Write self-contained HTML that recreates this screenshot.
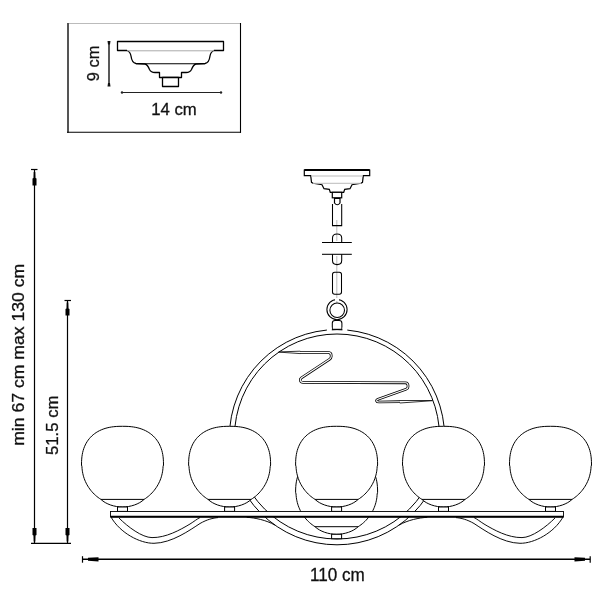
<!DOCTYPE html>
<html><head><meta charset="utf-8">
<style>
html,body{margin:0;padding:0;background:#fff;width:600px;height:600px;overflow:hidden}
svg{display:block;will-change:transform}
text{font-family:"Liberation Sans",sans-serif;fill:#111;stroke:#111;stroke-width:0.3px}
</style></head><body>
<svg width="600" height="600" viewBox="0 0 600 600">
<rect width="600" height="600" fill="#fff"/>
<!-- inset box -->
<line x1="68" y1="23.5" x2="240.5" y2="23.5" stroke="#bbb" stroke-width="1"/>
<line x1="68" y1="23" x2="68" y2="132.8" stroke="#555" stroke-width="2"/>
<line x1="240.5" y1="23" x2="240.5" y2="132.8" stroke="#000" stroke-width="1.1"/>
<line x1="67" y1="132.25" x2="241" y2="132.25" stroke="#000" stroke-width="1.1"/>
<!-- small canopy -->
<g fill="#fff" stroke="#000" stroke-width="1.3" stroke-linejoin="round">
<path d="M117.5,41.5 H223.5 V50.5 H214 C211.5,51.5 210.5,53 210,56 C209.5,60 208,63 205,63.5 L196,64 C193.5,64.5 192.5,67 191.5,69.5 C190.5,71.5 189,72.5 186,72.5 H181.5 V77.5 H159.5 V72.5 H155 C152,72.5 150.5,71.5 149.5,69.5 C148.5,67 147.5,64.5 145,64 L136,63.5 C133,63 131.5,60 131,56 C130.5,53 129.5,51.5 127,50.5 H117.5 Z"/>
<rect x="162.5" y="77.5" width="16" height="9"/>
</g>
<line x1="127" y1="50.8" x2="214" y2="50.8" stroke="#aaa" stroke-width="1"/>
<line x1="136" y1="63.7" x2="205" y2="63.7" stroke="#000" stroke-width="1.1"/>
<!-- dims small -->
<line x1="109" y1="41.5" x2="109" y2="86" stroke="#222" stroke-width="1.5"/>
<path d="M107.5,41 L110.5,41 L110,44.5 L108,44.5Z M107.5,86.5 L110.5,86.5 L110,83 L108,83Z" fill="#111"/>
<line x1="121.5" y1="92.5" x2="221.5" y2="92.5" stroke="#222" stroke-width="1.1"/>
<circle cx="122" cy="92.5" r="1.2" fill="#222"/><circle cx="221" cy="92.5" r="1.2" fill="#222"/>
<text x="151.2" y="114.6" font-size="16.3" textLength="45.5" lengthAdjust="spacingAndGlyphs">14 cm</text>
<text transform="translate(99,81.2) rotate(-90)" font-size="16.3" textLength="35.5" lengthAdjust="spacingAndGlyphs">9 cm</text>

<!-- big dims -->
<g stroke="#000" stroke-width="1.2" fill="none">
<line x1="34.5" y1="169.5" x2="34.5" y2="543.3"/>
<line x1="31" y1="169.5" x2="37.5" y2="169.5"/>
<line x1="67.5" y1="300.5" x2="67.5" y2="543.3"/>
<line x1="64.5" y1="300.5" x2="71" y2="300.5"/>
<line x1="31" y1="543.3" x2="71" y2="543.3"/>
<line x1="82.5" y1="559.3" x2="590.2" y2="559.3" stroke-width="1.5"/>
<line x1="82.5" y1="556.2" x2="82.5" y2="562.7"/>
<line x1="590.2" y1="556.2" x2="590.2" y2="562.7"/>
</g>
<g fill="#000">
<path d="M33.7,172 L35.3,172 L35.5,178 L36.5,178.5 L36.5,185.5 L32.5,185.5 L32.5,178.5 L33.5,178Z"/>
<path d="M66.7,302.5 L68.3,302.5 L68.5,308.5 L69.5,309 L69.5,315.5 L65.5,315.5 L65.5,309 L66.5,308.5Z"/>
<path d="M33.7,541.5 L35.3,541.5 L35.5,535.5 L36.5,535 L36.5,528 L32.5,528 L32.5,535 L33.5,535.5Z"/>
<path d="M66.7,541.5 L68.3,541.5 L68.5,535.5 L69.5,535 L69.5,528 L65.5,528 L65.5,535 L66.5,535.5Z"/>
<path d="M88,557.8 L98.5,557.2 L98.5,561.5 L88,560.8Z"/>
<path d="M585,557.8 L574.5,557.2 L574.5,561.5 L585,560.8Z"/>
</g>
<text transform="translate(23.6,445.8) rotate(-90)" font-size="16" textLength="182" lengthAdjust="spacingAndGlyphs">min 67 cm max 130 cm</text>
<text transform="translate(57.6,455) rotate(-90)" font-size="17" textLength="59.5" lengthAdjust="spacingAndGlyphs">51.5 cm</text>
<text x="310" y="580.6" font-size="17.5" textLength="54.8" lengthAdjust="spacingAndGlyphs">110 cm</text>

<!-- chandelier canopy -->
<g fill="#fff" stroke="#000" stroke-width="1.2" stroke-linejoin="miter">
<path d="M304.3,170 H369.7 V175.7 H363.3 L362.5,182.3 L361,183.3 L352,184.7 L350,188.7 L344.7,189.3 L343.7,192.3 H330.3 L329.3,189.3 L324,188.7 L322,184.7 L313,183.3 L311.5,182.3 L310.7,175.7 H304.3 Z"/>
<rect x="332.3" y="192.3" width="9.4" height="5.5"/>
<path d="M334.5,198.3 H340 V203 Q337.3,206.5 334.5,203 Z"/>
</g>
<line x1="304.3" y1="170" x2="369.7" y2="170" stroke="#000" stroke-width="1.8"/>
<line x1="311" y1="176" x2="363" y2="176" stroke="#bbb" stroke-width="1"/>
<line x1="313" y1="183.3" x2="361" y2="183.3" stroke="#bbb" stroke-width="1"/>
<!-- chain -->
<path d="M336.8,220 V241 M336.8,256 V303" stroke="#aaa" stroke-width="0.8"/>
<g fill="none" stroke="#000" stroke-width="1.05">
<path d="M332.5,204 V225.6 H341.7 V204"/>
<path d="M332.5,242.5 V238 Q332.5,234 337.1,234 Q341.7,234 341.7,238 V242.5"/>
<line x1="322" y1="242.5" x2="351.8" y2="242.5"/>
<line x1="322" y1="254.3" x2="351.8" y2="254.3"/>
<path d="M332.5,254.3 V260.5 Q332.5,264.6 337.1,264.6 Q341.7,264.6 341.7,260.5 V254.3"/>
<rect x="332.5" y="272.3" width="9" height="22" rx="2.2"/>
<circle cx="337" cy="309.6" r="10.1"/>
<circle cx="337.2" cy="310.2" r="7.3"/>
<path d="M332.3,329.5 V323.2 Q332.3,320.4 335,320.4 H339.2 Q341.9,320.4 341.9,323.2 V329.5"/>
</g>
<!-- ring -->
<g fill="none" stroke="#000" stroke-width="1">
<circle cx="337" cy="437.2" r="107.6"/>
<circle cx="337" cy="436.5" r="102.5"/>
</g>
<rect x="327" y="327.5" width="4.8" height="3.5" fill="#fff"/><rect x="342.4" y="327.5" width="4.8" height="3.5" fill="#fff"/>
<line x1="332" y1="329.3" x2="342.2" y2="329.3" stroke="#000" stroke-width="1"/>
<rect x="335" y="298" width="4" height="3" fill="#fff"/>
<!-- zigzag wires -->
<g fill="none" stroke-linejoin="round" stroke-linecap="butt">
<path d="M300,352.4 L328,352.4 Q331.2,352.6 331.2,355.5 L331.2,356.5 Q331.2,358.2 329.5,359.3 L301.5,377.8 Q300,379 300.3,380.5 Q300.8,382.4 303,382.4 L405.5,382.8 Q408,383 408,385.5 L408,387 Q408,388.6 406,389.3 L378,399.2 Q376.3,400 376.6,401 Q377,402 379,402 L400,401.7" stroke="#000" stroke-width="2.7"/>
<path d="M300,352.4 L328,352.4 Q331.2,352.6 331.2,355.5 L331.2,356.5 Q331.2,358.2 329.5,359.3 L301.5,377.8 Q300,379 300.3,380.5 Q300.8,382.4 303,382.4 L405.5,382.8 Q408,383 408,385.5 L408,387 Q408,388.6 406,389.3 L378,399.2 Q376.3,400 376.6,401 Q377,402 379,402 L400,401.7" stroke="#fff" stroke-width="1.1"/>
<path d="M278.7,351.9 L300.2,351.2 M278.7,352.1 L300.2,353.6 M399.8,400.5 L432.5,400.5 M399.8,403 L432.5,400.7" stroke="#000" stroke-width="0.8"/>
</g>
<!-- arms -->
<g fill="none" stroke="#000" stroke-width="0.95">
<path d="M111,517 C120,533 140,543.5 154,543.3 C172,543 190,530 200,523.5 C207,519.5 213,518 218,517.6"/>
<path d="M119,518 C128,527 142,537.5 152,537.6 C166,537.8 180,530 190,524 C194,521.5 197,519 200,517.5"/>
<path d="M563,517 C554,533 534,543.5 520,543.3 C502,543 484,530 474,523.5 C467,519.5 461,518 456,517.6"/>
<path d="M555,518 C546,527 532,537.5 522,537.6 C508,537.8 494,530 484,524 C480,521.5 477,519 474,517.5"/>
<path d="M246.7,517.3 C255,517.8 266,520 275,525.1"/>
<path d="M427.3,517.3 C419,517.8 408,520 399,525.1"/>
</g>
<!-- globes -->
<g>
<path d="M315.04,526.70 L313.61,525.76 L312.22,524.76 L310.87,523.71 L309.57,522.60 L308.32,521.43 L307.12,520.22 L305.97,518.95 L304.88,517.64 L303.84,516.28 L302.86,514.88 L301.94,513.44 L301.08,511.96 L300.28,510.44 L299.55,508.90 L298.88,507.32 L298.28,505.72 L297.75,504.10 L297.29,502.45 L296.90,500.79 L296.57,499.11 L296.32,497.42 L296.14,495.72 L296.04,494.01 L295.60,492.30 L295.65,488.99 L295.79,486.41 L296.02,484.05 L296.35,481.85 L296.77,479.75 L297.28,477.76 L297.88,475.84 L298.58,474.01 L299.36,472.26 L300.23,470.58 L301.19,468.98 L302.24,467.45 L303.37,465.99 L304.59,464.61 L305.88,463.31 L307.27,462.08 L308.73,460.93 L310.27,459.87 L311.89,458.88 L313.59,457.97 L315.37,457.15 L317.23,456.41 L319.17,455.75 L321.19,455.18 L323.31,454.70 L325.52,454.31 L327.86,454.00 L330.36,453.78 L333.09,453.64 L336.60,453.60 L340.11,453.64 L342.84,453.78 L345.34,454.00 L347.68,454.31 L349.89,454.70 L352.01,455.18 L354.03,455.75 L355.97,456.41 L357.83,457.15 L359.61,457.97 L361.31,458.88 L362.93,459.87 L364.47,460.93 L365.93,462.08 L367.32,463.31 L368.61,464.61 L369.83,465.99 L370.96,467.45 L372.01,468.98 L372.97,470.58 L373.84,472.26 L374.62,474.01 L375.32,475.84 L375.92,477.76 L376.43,479.75 L376.85,481.85 L377.18,484.05 L377.41,486.41 L377.55,488.99 L377.60,492.30 L377.16,494.01 L377.06,495.72 L376.88,497.42 L376.63,499.11 L376.30,500.79 L375.91,502.45 L375.45,504.10 L374.92,505.72 L374.32,507.32 L373.65,508.90 L372.92,510.44 L372.12,511.96 L371.26,513.44 L370.34,514.88 L369.36,516.28 L368.32,517.64 L367.23,518.95 L366.08,520.22 L364.88,521.43 L363.63,522.60 L362.33,523.71 L360.98,524.76 L359.59,525.76 L358.16,526.70 Z" fill="#fff" stroke="none"/>
<path d="M315.04,526.70 L313.61,525.76 L312.22,524.76 L310.87,523.71 L309.57,522.60 L308.32,521.43 L307.12,520.22 L305.97,518.95 L304.88,517.64 L303.84,516.28 L302.86,514.88 L301.94,513.44 L301.08,511.96 L300.28,510.44 L299.55,508.90 L298.88,507.32 L298.28,505.72 L297.75,504.10 L297.29,502.45 L296.90,500.79 L296.57,499.11 L296.32,497.42 L296.14,495.72 L296.04,494.01 L295.60,492.30 L295.65,488.99 L295.79,486.41 L296.02,484.05 L296.35,481.85 L296.77,479.75 L297.28,477.76 L297.88,475.84 L298.58,474.01 L299.36,472.26 L300.23,470.58 L301.19,468.98 L302.24,467.45 L303.37,465.99 L304.59,464.61 L305.88,463.31 L307.27,462.08 L308.73,460.93 L310.27,459.87 L311.89,458.88 L313.59,457.97 L315.37,457.15 L317.23,456.41 L319.17,455.75 L321.19,455.18 L323.31,454.70 L325.52,454.31 L327.86,454.00 L330.36,453.78 L333.09,453.64 L336.60,453.60 L340.11,453.64 L342.84,453.78 L345.34,454.00 L347.68,454.31 L349.89,454.70 L352.01,455.18 L354.03,455.75 L355.97,456.41 L357.83,457.15 L359.61,457.97 L361.31,458.88 L362.93,459.87 L364.47,460.93 L365.93,462.08 L367.32,463.31 L368.61,464.61 L369.83,465.99 L370.96,467.45 L372.01,468.98 L372.97,470.58 L373.84,472.26 L374.62,474.01 L375.32,475.84 L375.92,477.76 L376.43,479.75 L376.85,481.85 L377.18,484.05 L377.41,486.41 L377.55,488.99 L377.60,492.30 L377.16,494.01 L377.06,495.72 L376.88,497.42 L376.63,499.11 L376.30,500.79 L375.91,502.45 L375.45,504.10 L374.92,505.72 L374.32,507.32 L373.65,508.90 L372.92,510.44 L372.12,511.96 L371.26,513.44 L370.34,514.88 L369.36,516.28 L368.32,517.64 L367.23,518.95 L366.08,520.22 L364.88,521.43 L363.63,522.60 L362.33,523.71 L360.98,524.76 L359.59,525.76 L358.16,526.70" fill="none" stroke="#000" stroke-width="1.0"/>
<path d="M315.04,526.70 H358.16 C353.16,531.50 344.60,534.30 336.60,534.30 C328.60,534.30 320.04,531.50 315.04,526.70 Z" fill="#fff" stroke="#000" stroke-width="1"/>
<rect x="331.60" y="534.30" width="10" height="4.4" fill="#fff" stroke="#000" stroke-width="1"/>
<path d="M100.94,499.40 L99.51,498.46 L98.12,497.46 L96.77,496.41 L95.47,495.30 L94.22,494.13 L93.02,492.92 L91.87,491.65 L90.78,490.34 L89.74,488.98 L88.76,487.58 L87.84,486.14 L86.98,484.66 L86.18,483.14 L85.45,481.60 L84.78,480.02 L84.18,478.42 L83.65,476.80 L83.19,475.15 L82.80,473.49 L82.47,471.81 L82.22,470.12 L82.04,468.42 L81.94,466.71 L81.50,465.00 L81.55,461.69 L81.69,459.11 L81.92,456.75 L82.25,454.55 L82.67,452.45 L83.18,450.46 L83.78,448.54 L84.48,446.71 L85.26,444.96 L86.13,443.28 L87.09,441.68 L88.14,440.15 L89.27,438.69 L90.49,437.31 L91.78,436.01 L93.17,434.78 L94.63,433.63 L96.17,432.57 L97.79,431.58 L99.49,430.67 L101.27,429.85 L103.13,429.11 L105.07,428.45 L107.09,427.88 L109.21,427.40 L111.42,427.01 L113.76,426.70 L116.26,426.48 L118.99,426.34 L122.50,426.30 L126.01,426.34 L128.74,426.48 L131.24,426.70 L133.58,427.01 L135.79,427.40 L137.91,427.88 L139.93,428.45 L141.87,429.11 L143.73,429.85 L145.51,430.67 L147.21,431.58 L148.83,432.57 L150.37,433.63 L151.83,434.78 L153.22,436.01 L154.51,437.31 L155.73,438.69 L156.86,440.15 L157.91,441.68 L158.87,443.28 L159.74,444.96 L160.52,446.71 L161.22,448.54 L161.82,450.46 L162.33,452.45 L162.75,454.55 L163.08,456.75 L163.31,459.11 L163.45,461.69 L163.50,465.00 L163.06,466.71 L162.96,468.42 L162.78,470.12 L162.53,471.81 L162.20,473.49 L161.81,475.15 L161.35,476.80 L160.82,478.42 L160.22,480.02 L159.55,481.60 L158.82,483.14 L158.02,484.66 L157.16,486.14 L156.24,487.58 L155.26,488.98 L154.22,490.34 L153.13,491.65 L151.98,492.92 L150.78,494.13 L149.53,495.30 L148.23,496.41 L146.88,497.46 L145.49,498.46 L144.06,499.40 Z" fill="#fff" stroke="none"/>
<path d="M100.94,499.40 L99.51,498.46 L98.12,497.46 L96.77,496.41 L95.47,495.30 L94.22,494.13 L93.02,492.92 L91.87,491.65 L90.78,490.34 L89.74,488.98 L88.76,487.58 L87.84,486.14 L86.98,484.66 L86.18,483.14 L85.45,481.60 L84.78,480.02 L84.18,478.42 L83.65,476.80 L83.19,475.15 L82.80,473.49 L82.47,471.81 L82.22,470.12 L82.04,468.42 L81.94,466.71 L81.50,465.00 L81.55,461.69 L81.69,459.11 L81.92,456.75 L82.25,454.55 L82.67,452.45 L83.18,450.46 L83.78,448.54 L84.48,446.71 L85.26,444.96 L86.13,443.28 L87.09,441.68 L88.14,440.15 L89.27,438.69 L90.49,437.31 L91.78,436.01 L93.17,434.78 L94.63,433.63 L96.17,432.57 L97.79,431.58 L99.49,430.67 L101.27,429.85 L103.13,429.11 L105.07,428.45 L107.09,427.88 L109.21,427.40 L111.42,427.01 L113.76,426.70 L116.26,426.48 L118.99,426.34 L122.50,426.30 L126.01,426.34 L128.74,426.48 L131.24,426.70 L133.58,427.01 L135.79,427.40 L137.91,427.88 L139.93,428.45 L141.87,429.11 L143.73,429.85 L145.51,430.67 L147.21,431.58 L148.83,432.57 L150.37,433.63 L151.83,434.78 L153.22,436.01 L154.51,437.31 L155.73,438.69 L156.86,440.15 L157.91,441.68 L158.87,443.28 L159.74,444.96 L160.52,446.71 L161.22,448.54 L161.82,450.46 L162.33,452.45 L162.75,454.55 L163.08,456.75 L163.31,459.11 L163.45,461.69 L163.50,465.00 L163.06,466.71 L162.96,468.42 L162.78,470.12 L162.53,471.81 L162.20,473.49 L161.81,475.15 L161.35,476.80 L160.82,478.42 L160.22,480.02 L159.55,481.60 L158.82,483.14 L158.02,484.66 L157.16,486.14 L156.24,487.58 L155.26,488.98 L154.22,490.34 L153.13,491.65 L151.98,492.92 L150.78,494.13 L149.53,495.30 L148.23,496.41 L146.88,497.46 L145.49,498.46 L144.06,499.40" fill="none" stroke="#000" stroke-width="1.0"/>
<path d="M100.94,499.40 H144.06 C139.06,504.20 130.50,507.00 122.50,507.00 C114.50,507.00 105.94,504.20 100.94,499.40 Z" fill="#fff" stroke="#000" stroke-width="1"/>
<rect x="117.50" y="507.00" width="10" height="4.4" fill="#fff" stroke="#000" stroke-width="1"/>
<path d="M208.04,499.40 L206.61,498.46 L205.22,497.46 L203.87,496.41 L202.57,495.30 L201.32,494.13 L200.12,492.92 L198.97,491.65 L197.88,490.34 L196.84,488.98 L195.86,487.58 L194.94,486.14 L194.08,484.66 L193.28,483.14 L192.55,481.60 L191.88,480.02 L191.28,478.42 L190.75,476.80 L190.29,475.15 L189.90,473.49 L189.57,471.81 L189.32,470.12 L189.14,468.42 L189.04,466.71 L188.60,465.00 L188.65,461.69 L188.79,459.11 L189.02,456.75 L189.35,454.55 L189.77,452.45 L190.28,450.46 L190.88,448.54 L191.58,446.71 L192.36,444.96 L193.23,443.28 L194.19,441.68 L195.24,440.15 L196.37,438.69 L197.59,437.31 L198.88,436.01 L200.27,434.78 L201.73,433.63 L203.27,432.57 L204.89,431.58 L206.59,430.67 L208.37,429.85 L210.23,429.11 L212.17,428.45 L214.19,427.88 L216.31,427.40 L218.52,427.01 L220.86,426.70 L223.36,426.48 L226.09,426.34 L229.60,426.30 L233.11,426.34 L235.84,426.48 L238.34,426.70 L240.68,427.01 L242.89,427.40 L245.01,427.88 L247.03,428.45 L248.97,429.11 L250.83,429.85 L252.61,430.67 L254.31,431.58 L255.93,432.57 L257.47,433.63 L258.93,434.78 L260.32,436.01 L261.61,437.31 L262.83,438.69 L263.96,440.15 L265.01,441.68 L265.97,443.28 L266.84,444.96 L267.62,446.71 L268.32,448.54 L268.92,450.46 L269.43,452.45 L269.85,454.55 L270.18,456.75 L270.41,459.11 L270.55,461.69 L270.60,465.00 L270.16,466.71 L270.06,468.42 L269.88,470.12 L269.63,471.81 L269.30,473.49 L268.91,475.15 L268.45,476.80 L267.92,478.42 L267.32,480.02 L266.65,481.60 L265.92,483.14 L265.12,484.66 L264.26,486.14 L263.34,487.58 L262.36,488.98 L261.32,490.34 L260.23,491.65 L259.08,492.92 L257.88,494.13 L256.63,495.30 L255.33,496.41 L253.98,497.46 L252.59,498.46 L251.16,499.40 Z" fill="#fff" stroke="none"/>
<path d="M208.04,499.40 L206.61,498.46 L205.22,497.46 L203.87,496.41 L202.57,495.30 L201.32,494.13 L200.12,492.92 L198.97,491.65 L197.88,490.34 L196.84,488.98 L195.86,487.58 L194.94,486.14 L194.08,484.66 L193.28,483.14 L192.55,481.60 L191.88,480.02 L191.28,478.42 L190.75,476.80 L190.29,475.15 L189.90,473.49 L189.57,471.81 L189.32,470.12 L189.14,468.42 L189.04,466.71 L188.60,465.00 L188.65,461.69 L188.79,459.11 L189.02,456.75 L189.35,454.55 L189.77,452.45 L190.28,450.46 L190.88,448.54 L191.58,446.71 L192.36,444.96 L193.23,443.28 L194.19,441.68 L195.24,440.15 L196.37,438.69 L197.59,437.31 L198.88,436.01 L200.27,434.78 L201.73,433.63 L203.27,432.57 L204.89,431.58 L206.59,430.67 L208.37,429.85 L210.23,429.11 L212.17,428.45 L214.19,427.88 L216.31,427.40 L218.52,427.01 L220.86,426.70 L223.36,426.48 L226.09,426.34 L229.60,426.30 L233.11,426.34 L235.84,426.48 L238.34,426.70 L240.68,427.01 L242.89,427.40 L245.01,427.88 L247.03,428.45 L248.97,429.11 L250.83,429.85 L252.61,430.67 L254.31,431.58 L255.93,432.57 L257.47,433.63 L258.93,434.78 L260.32,436.01 L261.61,437.31 L262.83,438.69 L263.96,440.15 L265.01,441.68 L265.97,443.28 L266.84,444.96 L267.62,446.71 L268.32,448.54 L268.92,450.46 L269.43,452.45 L269.85,454.55 L270.18,456.75 L270.41,459.11 L270.55,461.69 L270.60,465.00 L270.16,466.71 L270.06,468.42 L269.88,470.12 L269.63,471.81 L269.30,473.49 L268.91,475.15 L268.45,476.80 L267.92,478.42 L267.32,480.02 L266.65,481.60 L265.92,483.14 L265.12,484.66 L264.26,486.14 L263.34,487.58 L262.36,488.98 L261.32,490.34 L260.23,491.65 L259.08,492.92 L257.88,494.13 L256.63,495.30 L255.33,496.41 L253.98,497.46 L252.59,498.46 L251.16,499.40" fill="none" stroke="#000" stroke-width="1.0"/>
<path d="M208.04,499.40 H251.16 C246.16,504.20 237.60,507.00 229.60,507.00 C221.60,507.00 213.04,504.20 208.04,499.40 Z" fill="#fff" stroke="#000" stroke-width="1"/>
<rect x="224.60" y="507.00" width="10" height="4.4" fill="#fff" stroke="#000" stroke-width="1"/>
<path d="M315.04,499.40 L313.61,498.46 L312.22,497.46 L310.87,496.41 L309.57,495.30 L308.32,494.13 L307.12,492.92 L305.97,491.65 L304.88,490.34 L303.84,488.98 L302.86,487.58 L301.94,486.14 L301.08,484.66 L300.28,483.14 L299.55,481.60 L298.88,480.02 L298.28,478.42 L297.75,476.80 L297.29,475.15 L296.90,473.49 L296.57,471.81 L296.32,470.12 L296.14,468.42 L296.04,466.71 L295.60,465.00 L295.65,461.69 L295.79,459.11 L296.02,456.75 L296.35,454.55 L296.77,452.45 L297.28,450.46 L297.88,448.54 L298.58,446.71 L299.36,444.96 L300.23,443.28 L301.19,441.68 L302.24,440.15 L303.37,438.69 L304.59,437.31 L305.88,436.01 L307.27,434.78 L308.73,433.63 L310.27,432.57 L311.89,431.58 L313.59,430.67 L315.37,429.85 L317.23,429.11 L319.17,428.45 L321.19,427.88 L323.31,427.40 L325.52,427.01 L327.86,426.70 L330.36,426.48 L333.09,426.34 L336.60,426.30 L340.11,426.34 L342.84,426.48 L345.34,426.70 L347.68,427.01 L349.89,427.40 L352.01,427.88 L354.03,428.45 L355.97,429.11 L357.83,429.85 L359.61,430.67 L361.31,431.58 L362.93,432.57 L364.47,433.63 L365.93,434.78 L367.32,436.01 L368.61,437.31 L369.83,438.69 L370.96,440.15 L372.01,441.68 L372.97,443.28 L373.84,444.96 L374.62,446.71 L375.32,448.54 L375.92,450.46 L376.43,452.45 L376.85,454.55 L377.18,456.75 L377.41,459.11 L377.55,461.69 L377.60,465.00 L377.16,466.71 L377.06,468.42 L376.88,470.12 L376.63,471.81 L376.30,473.49 L375.91,475.15 L375.45,476.80 L374.92,478.42 L374.32,480.02 L373.65,481.60 L372.92,483.14 L372.12,484.66 L371.26,486.14 L370.34,487.58 L369.36,488.98 L368.32,490.34 L367.23,491.65 L366.08,492.92 L364.88,494.13 L363.63,495.30 L362.33,496.41 L360.98,497.46 L359.59,498.46 L358.16,499.40 Z" fill="#fff" stroke="none"/>
<path d="M315.04,499.40 L313.61,498.46 L312.22,497.46 L310.87,496.41 L309.57,495.30 L308.32,494.13 L307.12,492.92 L305.97,491.65 L304.88,490.34 L303.84,488.98 L302.86,487.58 L301.94,486.14 L301.08,484.66 L300.28,483.14 L299.55,481.60 L298.88,480.02 L298.28,478.42 L297.75,476.80 L297.29,475.15 L296.90,473.49 L296.57,471.81 L296.32,470.12 L296.14,468.42 L296.04,466.71 L295.60,465.00 L295.65,461.69 L295.79,459.11 L296.02,456.75 L296.35,454.55 L296.77,452.45 L297.28,450.46 L297.88,448.54 L298.58,446.71 L299.36,444.96 L300.23,443.28 L301.19,441.68 L302.24,440.15 L303.37,438.69 L304.59,437.31 L305.88,436.01 L307.27,434.78 L308.73,433.63 L310.27,432.57 L311.89,431.58 L313.59,430.67 L315.37,429.85 L317.23,429.11 L319.17,428.45 L321.19,427.88 L323.31,427.40 L325.52,427.01 L327.86,426.70 L330.36,426.48 L333.09,426.34 L336.60,426.30 L340.11,426.34 L342.84,426.48 L345.34,426.70 L347.68,427.01 L349.89,427.40 L352.01,427.88 L354.03,428.45 L355.97,429.11 L357.83,429.85 L359.61,430.67 L361.31,431.58 L362.93,432.57 L364.47,433.63 L365.93,434.78 L367.32,436.01 L368.61,437.31 L369.83,438.69 L370.96,440.15 L372.01,441.68 L372.97,443.28 L373.84,444.96 L374.62,446.71 L375.32,448.54 L375.92,450.46 L376.43,452.45 L376.85,454.55 L377.18,456.75 L377.41,459.11 L377.55,461.69 L377.60,465.00 L377.16,466.71 L377.06,468.42 L376.88,470.12 L376.63,471.81 L376.30,473.49 L375.91,475.15 L375.45,476.80 L374.92,478.42 L374.32,480.02 L373.65,481.60 L372.92,483.14 L372.12,484.66 L371.26,486.14 L370.34,487.58 L369.36,488.98 L368.32,490.34 L367.23,491.65 L366.08,492.92 L364.88,494.13 L363.63,495.30 L362.33,496.41 L360.98,497.46 L359.59,498.46 L358.16,499.40" fill="none" stroke="#000" stroke-width="1.0"/>
<path d="M315.04,499.40 H358.16 C353.16,504.20 344.60,507.00 336.60,507.00 C328.60,507.00 320.04,504.20 315.04,499.40 Z" fill="#fff" stroke="#000" stroke-width="1"/>
<rect x="331.60" y="507.00" width="10" height="4.4" fill="#fff" stroke="#000" stroke-width="1"/>
<path d="M421.94,499.40 L420.51,498.46 L419.12,497.46 L417.77,496.41 L416.47,495.30 L415.22,494.13 L414.02,492.92 L412.87,491.65 L411.78,490.34 L410.74,488.98 L409.76,487.58 L408.84,486.14 L407.98,484.66 L407.18,483.14 L406.45,481.60 L405.78,480.02 L405.18,478.42 L404.65,476.80 L404.19,475.15 L403.80,473.49 L403.47,471.81 L403.22,470.12 L403.04,468.42 L402.94,466.71 L402.50,465.00 L402.55,461.69 L402.69,459.11 L402.92,456.75 L403.25,454.55 L403.67,452.45 L404.18,450.46 L404.78,448.54 L405.48,446.71 L406.26,444.96 L407.13,443.28 L408.09,441.68 L409.14,440.15 L410.27,438.69 L411.49,437.31 L412.78,436.01 L414.17,434.78 L415.63,433.63 L417.17,432.57 L418.79,431.58 L420.49,430.67 L422.27,429.85 L424.13,429.11 L426.07,428.45 L428.09,427.88 L430.21,427.40 L432.42,427.01 L434.76,426.70 L437.26,426.48 L439.99,426.34 L443.50,426.30 L447.01,426.34 L449.74,426.48 L452.24,426.70 L454.58,427.01 L456.79,427.40 L458.91,427.88 L460.93,428.45 L462.87,429.11 L464.73,429.85 L466.51,430.67 L468.21,431.58 L469.83,432.57 L471.37,433.63 L472.83,434.78 L474.22,436.01 L475.51,437.31 L476.73,438.69 L477.86,440.15 L478.91,441.68 L479.87,443.28 L480.74,444.96 L481.52,446.71 L482.22,448.54 L482.82,450.46 L483.33,452.45 L483.75,454.55 L484.08,456.75 L484.31,459.11 L484.45,461.69 L484.50,465.00 L484.06,466.71 L483.96,468.42 L483.78,470.12 L483.53,471.81 L483.20,473.49 L482.81,475.15 L482.35,476.80 L481.82,478.42 L481.22,480.02 L480.55,481.60 L479.82,483.14 L479.02,484.66 L478.16,486.14 L477.24,487.58 L476.26,488.98 L475.22,490.34 L474.13,491.65 L472.98,492.92 L471.78,494.13 L470.53,495.30 L469.23,496.41 L467.88,497.46 L466.49,498.46 L465.06,499.40 Z" fill="#fff" stroke="none"/>
<path d="M421.94,499.40 L420.51,498.46 L419.12,497.46 L417.77,496.41 L416.47,495.30 L415.22,494.13 L414.02,492.92 L412.87,491.65 L411.78,490.34 L410.74,488.98 L409.76,487.58 L408.84,486.14 L407.98,484.66 L407.18,483.14 L406.45,481.60 L405.78,480.02 L405.18,478.42 L404.65,476.80 L404.19,475.15 L403.80,473.49 L403.47,471.81 L403.22,470.12 L403.04,468.42 L402.94,466.71 L402.50,465.00 L402.55,461.69 L402.69,459.11 L402.92,456.75 L403.25,454.55 L403.67,452.45 L404.18,450.46 L404.78,448.54 L405.48,446.71 L406.26,444.96 L407.13,443.28 L408.09,441.68 L409.14,440.15 L410.27,438.69 L411.49,437.31 L412.78,436.01 L414.17,434.78 L415.63,433.63 L417.17,432.57 L418.79,431.58 L420.49,430.67 L422.27,429.85 L424.13,429.11 L426.07,428.45 L428.09,427.88 L430.21,427.40 L432.42,427.01 L434.76,426.70 L437.26,426.48 L439.99,426.34 L443.50,426.30 L447.01,426.34 L449.74,426.48 L452.24,426.70 L454.58,427.01 L456.79,427.40 L458.91,427.88 L460.93,428.45 L462.87,429.11 L464.73,429.85 L466.51,430.67 L468.21,431.58 L469.83,432.57 L471.37,433.63 L472.83,434.78 L474.22,436.01 L475.51,437.31 L476.73,438.69 L477.86,440.15 L478.91,441.68 L479.87,443.28 L480.74,444.96 L481.52,446.71 L482.22,448.54 L482.82,450.46 L483.33,452.45 L483.75,454.55 L484.08,456.75 L484.31,459.11 L484.45,461.69 L484.50,465.00 L484.06,466.71 L483.96,468.42 L483.78,470.12 L483.53,471.81 L483.20,473.49 L482.81,475.15 L482.35,476.80 L481.82,478.42 L481.22,480.02 L480.55,481.60 L479.82,483.14 L479.02,484.66 L478.16,486.14 L477.24,487.58 L476.26,488.98 L475.22,490.34 L474.13,491.65 L472.98,492.92 L471.78,494.13 L470.53,495.30 L469.23,496.41 L467.88,497.46 L466.49,498.46 L465.06,499.40" fill="none" stroke="#000" stroke-width="1.0"/>
<path d="M421.94,499.40 H465.06 C460.06,504.20 451.50,507.00 443.50,507.00 C435.50,507.00 426.94,504.20 421.94,499.40 Z" fill="#fff" stroke="#000" stroke-width="1"/>
<rect x="438.50" y="507.00" width="10" height="4.4" fill="#fff" stroke="#000" stroke-width="1"/>
<path d="M528.94,499.40 L527.51,498.46 L526.12,497.46 L524.77,496.41 L523.47,495.30 L522.22,494.13 L521.02,492.92 L519.87,491.65 L518.78,490.34 L517.74,488.98 L516.76,487.58 L515.84,486.14 L514.98,484.66 L514.18,483.14 L513.45,481.60 L512.78,480.02 L512.18,478.42 L511.65,476.80 L511.19,475.15 L510.80,473.49 L510.47,471.81 L510.22,470.12 L510.04,468.42 L509.94,466.71 L509.50,465.00 L509.55,461.69 L509.69,459.11 L509.92,456.75 L510.25,454.55 L510.67,452.45 L511.18,450.46 L511.78,448.54 L512.48,446.71 L513.26,444.96 L514.13,443.28 L515.09,441.68 L516.14,440.15 L517.27,438.69 L518.49,437.31 L519.78,436.01 L521.17,434.78 L522.63,433.63 L524.17,432.57 L525.79,431.58 L527.49,430.67 L529.27,429.85 L531.13,429.11 L533.07,428.45 L535.09,427.88 L537.21,427.40 L539.42,427.01 L541.76,426.70 L544.26,426.48 L546.99,426.34 L550.50,426.30 L554.01,426.34 L556.74,426.48 L559.24,426.70 L561.58,427.01 L563.79,427.40 L565.91,427.88 L567.93,428.45 L569.87,429.11 L571.73,429.85 L573.51,430.67 L575.21,431.58 L576.83,432.57 L578.37,433.63 L579.83,434.78 L581.22,436.01 L582.51,437.31 L583.73,438.69 L584.86,440.15 L585.91,441.68 L586.87,443.28 L587.74,444.96 L588.52,446.71 L589.22,448.54 L589.82,450.46 L590.33,452.45 L590.75,454.55 L591.08,456.75 L591.31,459.11 L591.45,461.69 L591.50,465.00 L591.06,466.71 L590.96,468.42 L590.78,470.12 L590.53,471.81 L590.20,473.49 L589.81,475.15 L589.35,476.80 L588.82,478.42 L588.22,480.02 L587.55,481.60 L586.82,483.14 L586.02,484.66 L585.16,486.14 L584.24,487.58 L583.26,488.98 L582.22,490.34 L581.13,491.65 L579.98,492.92 L578.78,494.13 L577.53,495.30 L576.23,496.41 L574.88,497.46 L573.49,498.46 L572.06,499.40 Z" fill="#fff" stroke="none"/>
<path d="M528.94,499.40 L527.51,498.46 L526.12,497.46 L524.77,496.41 L523.47,495.30 L522.22,494.13 L521.02,492.92 L519.87,491.65 L518.78,490.34 L517.74,488.98 L516.76,487.58 L515.84,486.14 L514.98,484.66 L514.18,483.14 L513.45,481.60 L512.78,480.02 L512.18,478.42 L511.65,476.80 L511.19,475.15 L510.80,473.49 L510.47,471.81 L510.22,470.12 L510.04,468.42 L509.94,466.71 L509.50,465.00 L509.55,461.69 L509.69,459.11 L509.92,456.75 L510.25,454.55 L510.67,452.45 L511.18,450.46 L511.78,448.54 L512.48,446.71 L513.26,444.96 L514.13,443.28 L515.09,441.68 L516.14,440.15 L517.27,438.69 L518.49,437.31 L519.78,436.01 L521.17,434.78 L522.63,433.63 L524.17,432.57 L525.79,431.58 L527.49,430.67 L529.27,429.85 L531.13,429.11 L533.07,428.45 L535.09,427.88 L537.21,427.40 L539.42,427.01 L541.76,426.70 L544.26,426.48 L546.99,426.34 L550.50,426.30 L554.01,426.34 L556.74,426.48 L559.24,426.70 L561.58,427.01 L563.79,427.40 L565.91,427.88 L567.93,428.45 L569.87,429.11 L571.73,429.85 L573.51,430.67 L575.21,431.58 L576.83,432.57 L578.37,433.63 L579.83,434.78 L581.22,436.01 L582.51,437.31 L583.73,438.69 L584.86,440.15 L585.91,441.68 L586.87,443.28 L587.74,444.96 L588.52,446.71 L589.22,448.54 L589.82,450.46 L590.33,452.45 L590.75,454.55 L591.08,456.75 L591.31,459.11 L591.45,461.69 L591.50,465.00 L591.06,466.71 L590.96,468.42 L590.78,470.12 L590.53,471.81 L590.20,473.49 L589.81,475.15 L589.35,476.80 L588.82,478.42 L588.22,480.02 L587.55,481.60 L586.82,483.14 L586.02,484.66 L585.16,486.14 L584.24,487.58 L583.26,488.98 L582.22,490.34 L581.13,491.65 L579.98,492.92 L578.78,494.13 L577.53,495.30 L576.23,496.41 L574.88,497.46 L573.49,498.46 L572.06,499.40" fill="none" stroke="#000" stroke-width="1.0"/>
<path d="M528.94,499.40 H572.06 C567.06,504.20 558.50,507.00 550.50,507.00 C542.50,507.00 533.94,504.20 528.94,499.40 Z" fill="#fff" stroke="#000" stroke-width="1"/>
<rect x="545.50" y="507.00" width="10" height="4.4" fill="#fff" stroke="#000" stroke-width="1"/>
<rect x="110.5" y="511.5" width="453" height="5.3" fill="#fff" stroke="#000" stroke-width="0.9"/>
<line x1="110.5" y1="516.8" x2="563.5" y2="516.8" stroke="#000" stroke-width="2"/>
</g>
</svg>
</body></html>
